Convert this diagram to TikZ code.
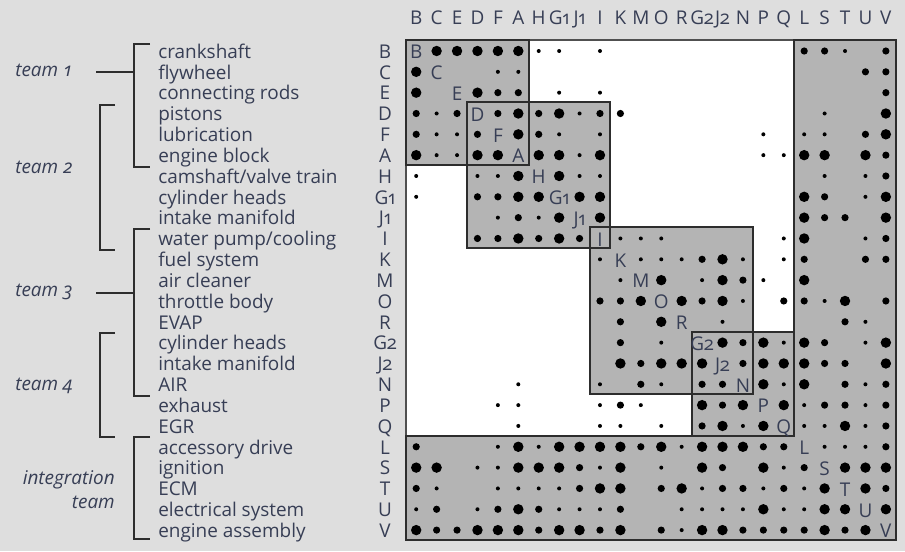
\documentclass[tikz,border=0pt]{standalone}
\usepackage{fontspec}
\setmainfont{Open Sans}[Numbers=OldStyle]
\definecolor{bgc}{RGB}{222,222,222}
\definecolor{shadec}{RGB}{180,180,180}
\definecolor{txtc}{RGB}{55,62,85}
\definecolor{framec}{RGB}{45,45,45}
\definecolor{outerc}{RGB}{80,80,80}
\def\radl{5.2}\def\radm{3.6}\def\rads{2.0}
\newcommand\dotrow[2]{%
  \foreach \i/\s in {#2}{%
    \edef\rr{\csname rad\s\endcsname}%
    \fill ({416.2+20.42*\i},{51+20.83*#1}) circle[radius=\rr];
  }}
\begin{document}
\begin{tikzpicture}[x=0.75pt,y=-0.75pt,
  lab/.style={font=\fontsize{14.2}{16}\selectfont, text=txtc, inner sep=0pt},
  teamlab/.style={font=\fontsize{14.2}{16}\selectfont\itshape, text=txtc, inner sep=0pt},
  boxline/.style={draw=framec, line width=1.5pt},
  brk/.style={draw=framec, line width=1.5pt}]
\fill[bgc] (0,0) rectangle (905,551);
\useasboundingbox (0,0) rectangle (905,551);
% matrix base and shaded blocks
\fill[white] (406,40) rectangle (896.08,539.92);
\fill[shadec] (406,40) rectangle (528.52,164.98);
\fill[shadec] (467.26,102.49) rectangle (610.2,248.3);
\fill[shadec] (589.78,227.47) rectangle (753.14,394.11);
\fill[shadec] (691.88,331.62) rectangle (793.98,435.77);
\fill[shadec] (793.98,40) rectangle (896.08,539.92);
\fill[shadec] (406,435.77) rectangle (896.08,539.92);
% outlines
\draw[draw=outerc, line width=1.5pt] (406,40) rectangle (896.08,539.92);
\draw[boxline] (406,40) rectangle (528.52,164.98);
\draw[boxline] (467.26,102.49) rectangle (610.2,248.3);
\draw[boxline] (589.78,227.47) rectangle (753.14,394.11);
\draw[boxline] (691.88,331.62) rectangle (793.98,435.77);
\draw[boxline] (793.98,40) -- (896.08,40) -- (896.08,539.92) -- (406,539.92) -- (406,435.77) -- (793.98,435.77) -- cycle;
% dots
\dotrow{0}{1/l,2/l,3/l,4/l,5/l,6/s,7/s,9/s,19/m,20/m,21/s,23/m}
\dotrow{1}{0/l,4/s,5/s,22/m,23/m}
\dotrow{2}{0/l,3/l,4/m,5/m,7/s,9/s,23/m}
\dotrow{3}{0/m,1/s,2/m,4/m,5/l,6/m,7/l,8/s,9/m,10/m,20/s,23/l}
\dotrow{4}{0/m,1/s,2/s,3/m,5/l,6/m,7/s,9/s,17/s,19/s,20/s,22/m,23/l}
\dotrow{5}{0/l,1/s,2/s,3/l,4/l,6/l,7/l,8/s,9/l,17/s,18/s,19/l,20/l,22/l,23/m}
\dotrow{6}{0/s,3/s,4/s,5/l,7/l,8/s,9/s,20/s,22/s,23/m}
\dotrow{7}{0/s,3/m,4/m,5/l,6/l,8/l,9/l,19/l,20/m,22/s,23/l}
\dotrow{8}{4/s,5/m,6/s,7/l,9/l,19/l,20/m,21/m,23/l}
\dotrow{9}{3/m,4/m,5/l,6/m,7/l,8/m,10/s,11/s,12/s,18/s,19/l,22/s,23/m}
\dotrow{10}{9/s,11/s,12/s,13/s,14/m,15/l,16/s,18/s,19/m,22/m,23/m}
\dotrow{11}{10/s,12/l,14/s,15/l,16/m,17/s,19/l}
\dotrow{12}{9/m,10/m,11/l,13/l,14/m,15/l,16/s,18/m,19/m,20/s,21/l,23/m}
\dotrow{13}{10/m,12/l,15/s,21/m,22/s}
\dotrow{14}{10/m,12/s,15/l,16/m,17/l,18/s,19/l,20/m,22/s,23/l}
\dotrow{15}{10/l,11/m,12/l,13/l,14/l,16/m,17/l,18/l,19/l,20/m,21/m,23/l}
\dotrow{16}{5/s,9/s,11/m,12/s,14/m,15/m,17/l,18/s,19/l,21/m,22/s,23/m}
\dotrow{17}{4/s,5/s,9/s,10/m,11/s,14/l,15/m,16/l,18/l,19/s,20/m,21/m,22/s,23/m}
\dotrow{18}{5/s,9/s,10/s,12/s,14/m,15/l,16/s,17/l,19/s,20/s,21/l,22/s,23/m}
\dotrow{19}{0/m,4/s,5/l,6/s,7/l,8/l,9/l,10/l,11/m,12/l,13/s,14/l,15/l,16/l,17/m,18/m,20/s,21/s,22/s,23/m}
\dotrow{20}{0/l,1/l,3/s,4/s,5/l,6/l,7/l,8/m,9/s,10/l,12/s,14/l,15/m,17/l,18/s,19/m,21/l,22/l,23/l}
\dotrow{21}{0/m,1/s,4/s,5/s,6/s,7/s,8/m,9/l,10/l,12/m,13/l,14/s,15/m,16/m,17/s,18/m,19/s,20/l,22/l,23/m}
\dotrow{22}{0/s,1/m,3/s,4/m,5/l,6/m,7/s,8/s,9/s,10/m,13/s,14/s,15/s,16/s,17/l,18/s,19/s,20/l,21/l,23/l}
\dotrow{23}{0/l,1/m,2/m,3/l,4/l,5/l,6/m,7/l,8/l,9/m,10/l,12/m,13/s,14/l,15/l,16/m,17/m,18/m,19/m,20/l,21/m,22/l}
% labels
\foreach \j/\t/\c in {0/crankshaft/B,1/flywheel/C,2/connecting rods/E,3/pistons/D,
  4/lubrication/F,5/engine block/A,6/{camshaft/valve train}/H,7/cylinder heads/G1,
  8/intake manifold/J1,9/{water pump/cooling}/I,10/fuel system/K,11/air cleaner/M,
  12/throttle body/O,13/EVAP/R,14/cylinder heads/G2,15/intake manifold/J2,16/AIR/N,
  17/exhaust/P,18/EGR/Q,19/accessory drive/L,20/ignition/S,21/ECM/T,
  22/electrical system/U,23/engine assembly/V}{
  \node[lab,anchor=base west] (t\j) at (158,{58.3+20.83*\j}) {\t};
  \node[lab,anchor=base] (r\j) at (385,{58.3+20.83*\j}) {\c};
  \node[lab,anchor=base] (h\j) at ({416.2+20.42*\j},24) {\c};
  \node[lab,anchor=base] (d\j) at ({416.2+20.42*\j},{58.8+20.83*\j}) {\c};
}
% team labels
\node[teamlab,anchor=base west] (tm1) at (15,76.7) {team 1};
\node[teamlab,anchor=base west] (tm2) at (15,173.3) {team 2};
\node[teamlab,anchor=base west] (tm3) at (15,296.7) {team 3};
\node[teamlab,anchor=base west] (tm4) at (15,390) {team 4};
\node[teamlab,anchor=base east] (tm5a) at (115,484) {integration};
\node[teamlab,anchor=base east] (tm5b) at (115,508.5) {team};
% brackets
\coordinate (c1a) at (96,71.5); \coordinate (c1b) at (133.5,71.5);
\coordinate (c3a) at (96,292.7); \coordinate (c3b) at (133.5,292.7);
\draw[brk] (150,44) -- (133.5,44) -- (133.5,167) -- (150,167);
\draw[brk] (c1a) -- (c1b);
\draw[brk] (115,105) -- (100,105) -- (100,250) -- (115,250);
\draw[brk] (150,229) -- (133.5,229) -- (133.5,396) -- (150,396);
\draw[brk] (c3a) -- (c3b);
\draw[brk] (115,332.7) -- (100,332.7) -- (100,436.7) -- (115,436.7);
\draw[brk] (150,437.3) -- (133.5,437.3) -- (133.5,539.3) -- (150,539.3);
\end{tikzpicture}
\end{document}
